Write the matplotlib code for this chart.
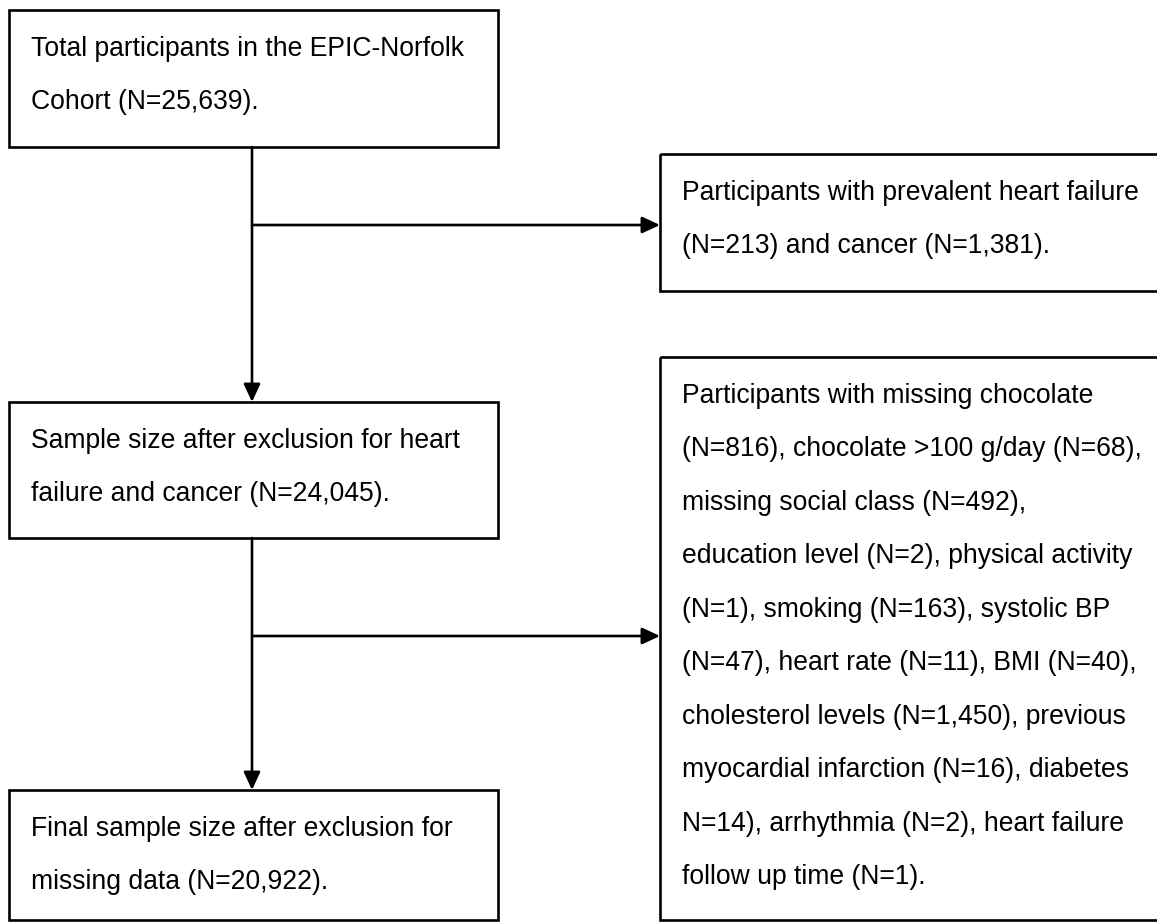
import matplotlib
matplotlib.use("Agg")
import matplotlib.pyplot as plt
from matplotlib.patches import Rectangle

plt.rcParams['font.family'] = ['Liberation Sans', 'DejaVu Sans']

# ---- content ----
box_total = ["Total participants in the EPIC-Norfolk", "Cohort (N=25,639)."]
box_excl1 = ["Participants with prevalent heart failure", "(N=213) and cancer (N=1,381)."]
box_sample = ["Sample size after exclusion for heart", "failure and cancer (N=24,045)."]
box_excl2 = [
    "Participants with missing chocolate",
    "(N=816), chocolate >100 g/day (N=68),",
    "missing social class (N=492),",
    "education level (N=2), physical activity",
    "(N=1), smoking (N=163), systolic BP",
    "(N=47), heart rate (N=11), BMI (N=40),",
    "cholesterol levels (N=1,450), previous",
    "myocardial infarction (N=16), diabetes",
    "N=14), arrhythmia (N=2), heart failure",
    "follow up time (N=1).",
]
box_final = ["Final sample size after exclusion for", "missing data (N=20,922)."]

W, H = 1157, 922
fig = plt.figure(figsize=(W / 100, H / 100), dpi=100)
ax = fig.add_axes([0, 0, 1, 1])
ax.set_xlim(0, W)
ax.set_ylim(H, 0)
ax.axis('off')

LW = 1.9
FS = 19.1
SP = 53.5

def box(x0, y0, x1, y1, lines):
    ax.add_patch(Rectangle((x0, y0), x1 - x0, y1 - y0, fill=False,
                           edgecolor='black', linewidth=LW))
    for i, t in enumerate(lines):
        ax.text(x0 + 22, y0 + 36 + i * SP + 9.5, t, fontsize=FS,
                ha='left', va='baseline', color='black')

def arrow(x0, y0, x1, y1):
    ax.annotate("", xy=(x1, y1), xytext=(x0, y0),
                arrowprops=dict(arrowstyle="-|>,head_length=1.08,head_width=0.5",
                                color='black', lw=LW, shrinkA=0, shrinkB=0))

box(9, 10, 498, 147, box_total)
box(660, 154, 1165, 291, box_excl1)
box(9, 402, 498, 538, box_sample)
box(660, 357, 1165, 920, box_excl2)
box(9, 790, 498, 920, box_final)

arrow(252, 147, 252, 402)
arrow(252, 225, 660, 225)
arrow(252, 538, 252, 790)
arrow(252, 636, 660, 636)

fig.savefig("out.png", dpi=100)
